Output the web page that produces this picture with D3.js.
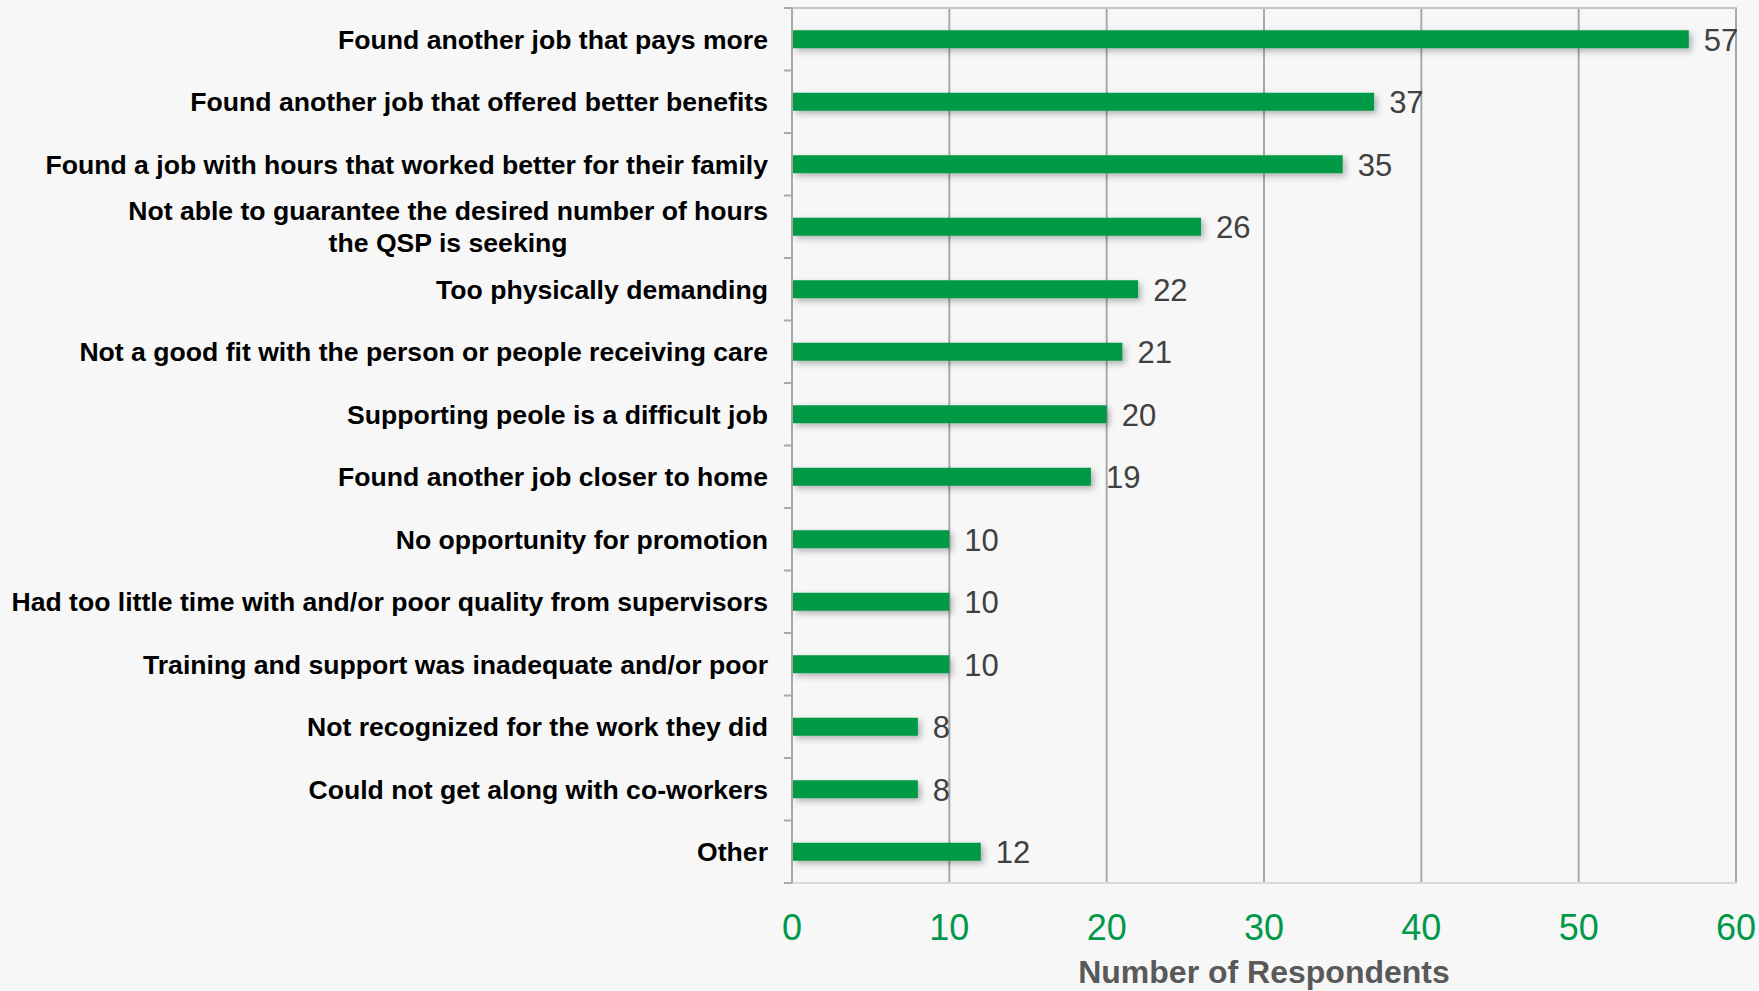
<!DOCTYPE html>
<html>
<head>
<meta charset="utf-8">
<script src="https://cdn.jsdelivr.net/npm/d3@7"></script>
<style>
  html, body { margin: 0; padding: 0; background: #f7f7f7; }
  svg { display: block; }
</style>
</head>
<body>
<svg id="chart" width="1759" height="991"></svg>
<script>
// Reasons respondents left (one entry per bar, top to bottom)
const categories = [
  ["Found another job that pays more"],
  ["Found another job that offered better benefits"],
  ["Found a job with hours that worked better for their family"],
  ["Not able to guarantee the desired number of hours", "the QSP is seeking"],
  ["Too physically demanding"],
  ["Not a good fit with the person or people receiving care"],
  ["Supporting peole is a difficult job"],
  ["Found another job closer to home"],
  ["No opportunity for promotion"],
  ["Had too little time with and/or poor quality from supervisors"],
  ["Training and support was inadequate and/or poor"],
  ["Not recognized for the work they did"],
  ["Could not get along with co-workers"],
  ["Other"]
];
const values = [57, 37, 35, 26, 22, 21, 20, 19, 10, 10, 10, 8, 8, 12];
const xTicks = [0, 10, 20, 30, 40, 50, 60];
const axisTitle = "Number of Respondents";

const svg = d3.select("#chart");
const plotLeft = 792, plotRight = 1736, plotTop = 8, plotBottom = 883;

const x = d3.scaleLinear().domain([0, 60]).range([plotLeft, plotRight]);
const y = d3.scaleBand().domain(d3.range(categories.length)).range([plotTop, plotBottom]).padding(0);
const barH = 18;

// soft shadow under the bars
const defs = svg.append("defs");
const f = defs.append("filter").attr("id", "shadow")
  .attr("x", "-5%").attr("y", "-60%").attr("width", "115%").attr("height", "250%");
f.append("feDropShadow").attr("dx", 3).attr("dy", 3).attr("stdDeviation", 3)
  .attr("flood-color", "#000").attr("flood-opacity", 0.28);

// vertical gridlines
svg.append("g").selectAll("line")
  .data(xTicks.filter(t => t > 0))
  .join("line")
  .attr("x1", d => x(d)).attr("x2", d => x(d))
  .attr("y1", plotTop).attr("y2", plotBottom)
  .attr("stroke", "#a9a9a9").attr("stroke-width", 2);

// top frame line
svg.append("line")
  .attr("x1", plotLeft - 8).attr("x2", plotRight + 1).attr("y1", plotTop).attr("y2", plotTop)
  .attr("stroke", "#c4c4c4").attr("stroke-width", 2);

// bottom axis line
svg.append("line")
  .attr("x1", plotLeft - 8).attr("x2", plotRight + 1).attr("y1", plotBottom).attr("y2", plotBottom)
  .attr("stroke", "#d9d9d9").attr("stroke-width", 2);

// category axis with outward ticks at band boundaries
svg.append("line")
  .attr("x1", plotLeft).attr("x2", plotLeft).attr("y1", plotTop).attr("y2", plotBottom)
  .attr("stroke", "#a9a9a9").attr("stroke-width", 2);
const boundaries = d3.range(categories.length + 1).map(i => plotTop + i * y.step());
svg.append("g").selectAll("line")
  .data(boundaries)
  .join("line")
  .attr("x1", plotLeft - 8).attr("x2", plotLeft)
  .attr("y1", d => d).attr("y2", d => d)
  .attr("stroke", "#a9a9a9").attr("stroke-width", 2);

// bars
svg.append("g").selectAll("rect")
  .data(values)
  .join("rect")
  .attr("x", x(0) + 1)
  .attr("y", (d, i) => y(i) + y.bandwidth() / 2 - barH / 2)
  .attr("width", d => x(d) - x(0) - 1)
  .attr("height", barH)
  .attr("fill", "#009944")
  .attr("filter", "url(#shadow)");

// value labels
svg.append("g").selectAll("text")
  .data(values)
  .join("text")
  .attr("x", d => x(d) + 15)
  .attr("y", (d, i) => y(i) + y.bandwidth() / 2)
  .attr("dy", "0.37em")
  .attr("font-family", "Liberation Sans, Arial, sans-serif")
  .attr("font-size", 31)
  .attr("fill", "#404040")
  .text(d => d);

// category labels (right aligned; wrapped labels are centred as a block)
const labelRight = 768;
const lineH = 31.5;
const catG = svg.append("g")
  .attr("font-family", "Liberation Sans, Arial, sans-serif")
  .attr("font-size", 26.6)
  .attr("font-weight", "bold")
  .attr("fill", "#000");
categories.forEach((lines, i) => {
  const cy = y(i) + y.bandwidth() / 2;
  const t = catG.append("text");
  lines.forEach((ln, k) => {
    t.append("tspan")
      .attr("y", cy + (k - (lines.length - 1) / 2) * lineH)
      .attr("dy", "0.35em")
      .text(ln);
  });
  if (lines.length === 1) {
    t.attr("text-anchor", "end");
    t.selectAll("tspan").attr("x", labelRight);
  } else {
    const widths = [];
    t.selectAll("tspan").each(function () { widths.push(this.getComputedTextLength()); });
    const w = d3.max(widths);
    t.attr("text-anchor", "middle");
    t.selectAll("tspan").attr("x", labelRight - w / 2);
  }
});

// x tick labels
svg.append("g").selectAll("text")
  .data(xTicks)
  .join("text")
  .attr("x", d => x(d))
  .attr("y", 940)
  .attr("text-anchor", "middle")
  .attr("font-family", "Liberation Sans, Arial, sans-serif")
  .attr("font-size", 36)
  .attr("fill", "#00994a")
  .text(d => d);

// axis title
svg.append("text")
  .attr("x", (plotLeft + plotRight) / 2)
  .attr("y", 983)
  .attr("text-anchor", "middle")
  .attr("font-family", "Liberation Sans, Arial, sans-serif")
  .attr("font-size", 32)
  .attr("font-weight", "bold")
  .attr("fill", "#595959")
  .text(axisTitle);
</script>
</body>
</html>
